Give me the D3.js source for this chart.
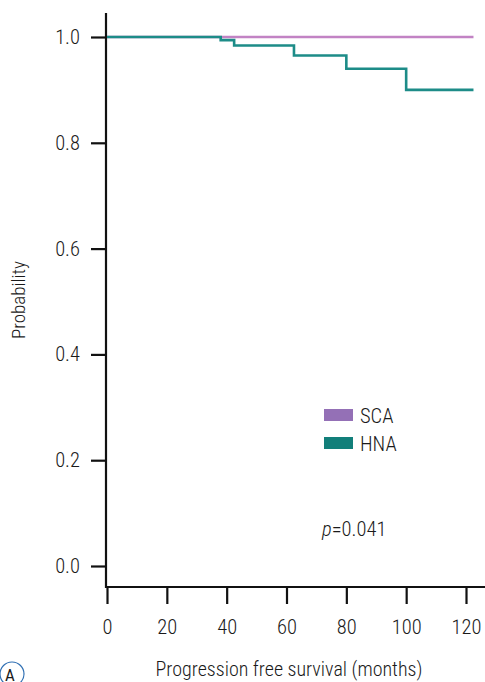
<!DOCTYPE html>
<html>
<head>
<meta charset="utf-8">
<script src="https://cdn.jsdelivr.net/npm/d3@7"></script>
<style>
  body { margin: 0; background: #fff; }
  text { font-family: "Roboto Condensed", "Liberation Sans", sans-serif; font-weight: 300; fill: #1a1a1a; }
</style>
</head>
<body>
<div id="chart"></div>
<script>
var svgWidth = 485;
var svgHeight = 682;

// survival data
var scaTimes = [0, 122.5];
var scaSurv = [1, 1];
var hnaTimes = [0, 38, 42.5, 62.5, 80, 100, 122.5];
var hnaSurv = [1, 0.994, 0.984, 0.965, 0.94, 0.90, 0.90];

var xTicks = [0, 20, 40, 60, 80, 100, 120];
var yTicks = [0, 0.2, 0.4, 0.6, 0.8, 1.0];
var groups = ["SCA", "HNA"];
var lineColors = ["#c283c4", "#1d8c88"];
var swatchColors = ["#9470b6", "#127f7a"];

var svg = d3.select("#chart")
  .append("svg")
  .attr("width", svgWidth)
  .attr("height", svgHeight);

var x = d3.scaleLinear().domain([0, 120]).range([107, 466]);
var y = d3.scaleLinear().domain([0, 1]).range([566, 37]);

// x axis
var xAxis = svg.append("g")
  .attr("transform", "translate(0, 587)")
  .call(d3.axisBottom(x).tickValues(xTicks).tickSize(17).tickPadding(15).tickSizeOuter(0));
xAxis.select(".domain").remove();
xAxis.append("line")
  .attr("x1", 106).attr("x2", 485)
  .attr("stroke", "#111").attr("stroke-width", 2.2);
xAxis.selectAll(".tick line").attr("stroke", "#111").attr("stroke-width", 2.2);
xAxis.selectAll(".tick text")
  .style("font-size", "20.5px")
  .attr("fill", "#1a1a1a");

// y axis
var yAxis = svg.append("g")
  .attr("transform", "translate(106, 0)")
  .call(d3.axisLeft(y).tickValues(yTicks).tickFormat(d3.format(".1f")).tickSize(15).tickPadding(11).tickSizeOuter(0));
yAxis.select(".domain").remove();
yAxis.append("line")
  .attr("y1", 13).attr("y2", 588)
  .attr("stroke", "#111").attr("stroke-width", 2.2);
yAxis.selectAll(".tick line").attr("stroke", "#111").attr("stroke-width", 2.2);
yAxis.selectAll(".tick text")
  .style("font-size", "20.5px")
  .attr("fill", "#1a1a1a");

var line = d3.line()
  .x(d => x(d[0]))
  .y(d => y(d[1]))
  .curve(d3.curveStepAfter);

var series = [d3.zip(scaTimes, scaSurv), d3.zip(hnaTimes, hnaSurv)];

svg.selectAll(".km")
  .data(series)
  .enter()
  .append("path")
  .attr("class", "km")
  .attr("d", line)
  .attr("fill", "none")
  .attr("stroke", (d, i) => lineColors[i])
  .attr("stroke-width", 2.6);

// legend
var legend = svg.selectAll(".legend")
  .data(groups)
  .enter()
  .append("g")
  .attr("class", "legend")
  .attr("transform", (d, i) => `translate(324, ${409 + i * 28})`);
legend.append("rect")
  .attr("width", 29).attr("height", 12)
  .attr("fill", (d, i) => swatchColors[i]);
legend.append("text")
  .attr("x", 36).attr("y", 14)
  .style("font-size", "20.5px")
  .text(d => d);

// p value
var pText = svg.append("text")
  .attr("x", 322).attr("y", 536)
  .style("font-size", "20.5px");
pText.append("tspan").style("font-style", "italic").text("p");
pText.append("tspan").text("=0.041");

// axis titles
svg.append("text")
  .attr("transform", "translate(25, 300) rotate(-90)")
  .attr("text-anchor", "middle")
  .style("font-size", "19px")
  .text("Probability");

svg.append("text")
  .attr("x", 289).attr("y", 676)
  .attr("text-anchor", "middle")
  .style("font-size", "20px")
  .text("Progression free survival (months)");

// panel label
svg.append("circle")
  .attr("cx", 12).attr("cy", 674).attr("r", 12)
  .attr("fill", "none")
  .attr("stroke", "#2f6fb3")
  .attr("stroke-width", 1.2);
svg.append("text")
  .attr("x", 10).attr("y", 681)
  .attr("text-anchor", "middle")
  .style("font-size", "17px")
  .style("font-weight", 400)
  .text("A");
</script>
</body>
</html>
